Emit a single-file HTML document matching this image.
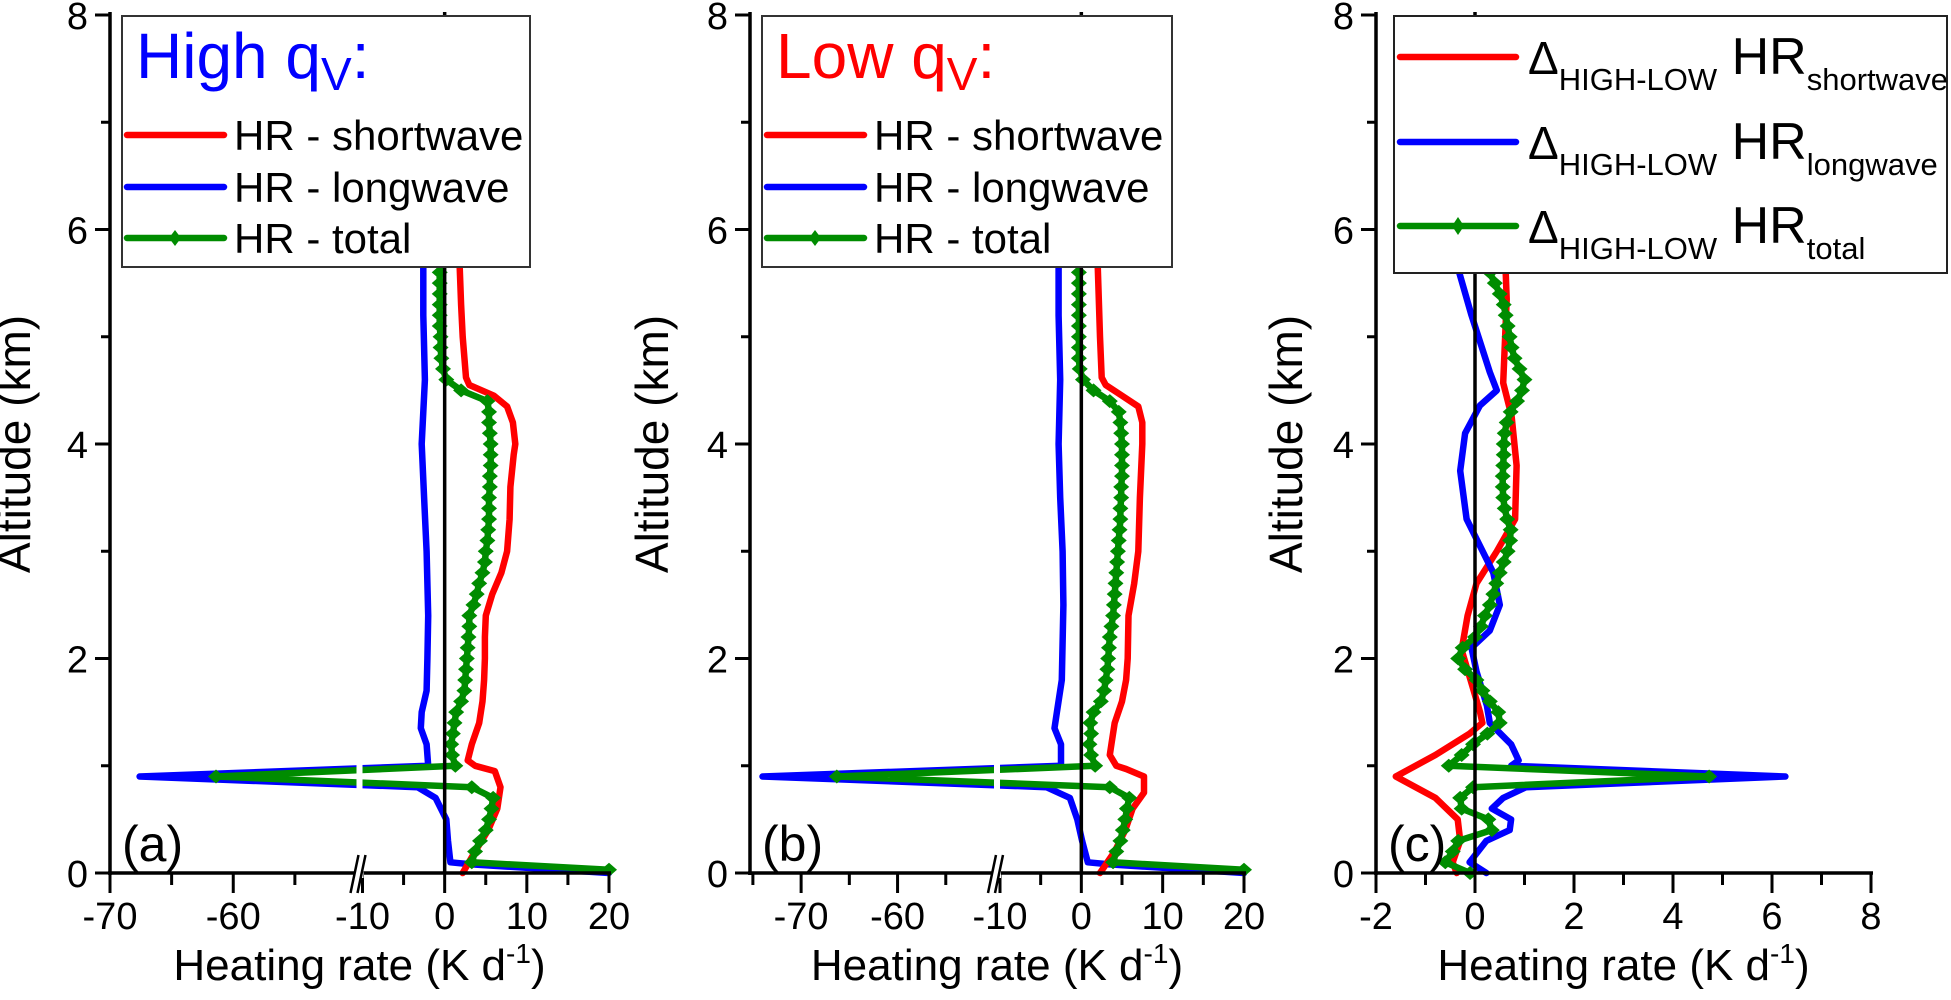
<!DOCTYPE html>
<html><head><meta charset="utf-8"><style>
html,body{margin:0;padding:0;background:#fff}
svg{display:block;font-family:"Liberation Sans",Arial,sans-serif}
</style></head><body>
<svg id="fig" width="1951" height="1000" viewBox="0 0 1951 1000" xmlns="http://www.w3.org/2000/svg"></svg>
<script>
// ---------- Panel (a) data: High qv ----------
const aShortAlt=[0,0.2,0.4,0.6,0.8,0.95,1.0,1.05,1.2,1.4,1.6,1.8,2.0,2.2,2.4,2.6,2.8,3.0,3.3,3.6,3.9,4.0,4.2,4.35,4.45,4.55,4.62,5.0,5.3,5.7];
const aShortVal=[2.2,3.7,5.3,6.4,6.8,6.1,3.7,2.8,3.3,4.2,4.6,4.8,4.9,4.9,5.0,5.8,6.9,7.6,7.9,8.0,8.4,8.6,8.3,7.6,6.0,3.0,2.6,2.2,2.0,1.8];
const aLongAlt=[0,0.08,0.1,0.3,0.5,0.7,0.8,0.9,1.0,1.2,1.35,1.5,1.7,2.0,2.4,3.0,3.5,4.0,4.6,5.2,5.7];
const aLongVal=[20,3.3,0.7,0.4,0.2,-1.1,-3.3,-67.6,-2.0,-2.2,-2.9,-2.8,-2.2,-2.1,-2.0,-2.2,-2.5,-2.8,-2.4,-2.6,-2.6];
const aTotAlt=[0.03,0.1,0.2,0.3,0.4,0.5,0.6,0.7,0.8,0.9,1.0,1.1,1.2,1.3,1.4,1.5,1.6,1.7,1.8,1.9,2.0,2.1,2.2,2.3,2.4,2.5,2.6,2.7,2.8,2.9,3.0,3.1,3.2,3.3,3.4,3.5,3.6,3.7,3.8,3.9,4.0,4.1,4.2,4.3,4.4,4.5,4.6,4.7,4.8,4.9,5.0,5.1,5.2,5.3,5.4,5.5,5.6,5.7];
const aTotVal=[20,3.3,3.7,4.3,5.0,5.4,5.7,5.9,3.3,-61.4,1.3,0.9,0.8,1.0,1.2,1.4,2.0,2.4,2.5,2.6,2.7,2.8,2.9,3.0,3.0,3.5,3.9,4.2,4.6,4.9,5.0,5.2,5.3,5.4,5.4,5.4,5.5,5.5,5.6,5.6,5.6,5.5,5.4,5.4,5.2,2.0,0.2,-0.2,-0.4,-0.5,-0.5,-0.6,-0.6,-0.6,-0.6,-0.6,-0.6,-0.6];
// ---------- Panel (b) data: Low qv ----------
const bShortAlt=[0,0.2,0.4,0.6,0.75,0.9,0.97,1.0,1.1,1.2,1.4,1.6,1.8,2.0,2.4,2.7,3.0,3.5,4.0,4.2,4.35,4.45,4.55,4.62,5.0,5.7];
const bShortVal=[2.3,4.1,5.4,6.3,7.7,7.7,5.5,4.3,3.5,3.7,4.1,5.0,5.5,5.7,5.8,6.5,7.0,7.2,7.5,7.5,7.0,5.0,3.0,2.5,2.3,2.0];
const bLongAlt=[0,0.08,0.1,0.3,0.5,0.7,0.8,0.9,1.0,1.2,1.35,1.5,1.8,2.5,3.0,3.5,4.0,4.6,5.2,5.7];
const bLongVal=[20,3.5,0.8,0.1,-0.5,-1.4,-4.3,-74.0,-2.5,-2.5,-3.3,-3.0,-2.4,-2.2,-2.3,-2.6,-2.8,-2.6,-2.8,-2.8];
const bTotAlt=aTotAlt;
const bTotVal=[20,3.9,4.3,4.8,5.1,5.4,5.6,5.9,3.5,-66.3,1.7,1.2,1.0,1.2,1.1,1.5,2.4,2.8,3.0,3.2,3.3,3.4,3.5,3.7,3.9,4.0,4.1,4.2,4.3,4.4,4.5,4.6,4.7,4.8,4.8,4.9,4.9,5.0,5.0,5.0,5.0,4.9,4.8,4.6,3.5,1.5,0.2,-0.2,-0.3,-0.3,-0.3,-0.3,-0.3,-0.3,-0.3,-0.3,-0.3,-0.3];
// ---------- Panel (c) data: HIGH-LOW difference ----------
const cShortAlt=[0,0.1,0.3,0.5,0.7,0.9,1.1,1.3,1.4,1.5,1.77,2.08,2.4,2.7,3.0,3.3,3.8,4.26,4.57,5.35,5.73];
const cShortVal=[-0.37,-0.45,-0.3,-0.35,-0.8,-1.6,-0.8,-0.11,0.15,0.1,-0.07,-0.27,-0.15,0.03,0.44,0.81,0.84,0.74,0.57,0.64,0.61];
const cLongAlt=[0,0.1,0.3,0.4,0.5,0.6,0.7,0.8,0.9,1.0,1.05,1.2,1.4,1.56,1.88,2.1,2.26,2.5,2.8,3.3,3.75,4.1,4.36,4.5,4.67,5.2,5.73];
const cLongVal=[0.23,-0.11,0.23,0.7,0.73,0.34,0.57,1.03,6.27,0.73,0.88,0.73,0.3,0.24,0.03,-0.07,0.3,0.5,0.37,-0.17,-0.3,-0.2,0.1,0.44,0.3,-0.07,-0.4];
const cTotAlt=[0,0.1,0.2,0.3,0.4,0.5,0.6,0.7,0.8,0.9,1.0,1.1,1.2,1.3,1.4,1.5,1.6,1.7,1.8,1.9,2.0,2.1,2.2,2.3,2.4,2.5,2.6,2.7,2.8,2.9,3.0,3.1,3.2,3.3,3.4,3.5,3.6,3.7,3.8,3.9,4.0,4.1,4.2,4.3,4.4,4.5,4.6,4.7,4.8,4.9,5.0,5.1,5.2,5.3,5.4,5.5,5.6,5.7];
const cTotVal=[-0.1,-0.6,-0.45,-0.34,0.34,0.27,-0.27,-0.3,-0.04,4.73,-0.53,-0.27,-0.04,0.25,0.5,0.47,0.3,0.15,0.03,-0.2,-0.34,-0.25,0.0,0.12,0.2,0.3,0.37,0.43,0.5,0.58,0.66,0.71,0.72,0.65,0.6,0.57,0.56,0.56,0.57,0.58,0.58,0.6,0.64,0.72,0.85,0.95,1.0,0.9,0.8,0.74,0.7,0.66,0.62,0.58,0.5,0.4,0.3,0.24];
// ---------- Axis tick labels ----------
const yTickLabels=[0,2,4,6,8];
const abXTickLabels=[-70,-60,-10,0,10,20];
const aXMinor=[-65,-55,-5,5,15];
const bXMinor=[-75,-65,-55,-5,5,15];
const cXTickLabels=[-2,0,2,4,6,8];
const cXMinor=[-1,1,3,5,7];

const NS="http://www.w3.org/2000/svg";
const svg=document.getElementById('fig');
function el(tag,attrs,parent){const e=document.createElementNS(NS,tag);for(const k in attrs)e.setAttribute(k,attrs[k]);(parent||svg).appendChild(e);return e;}
const Y0=873,Y8=15;
function yMap(a){return Y0+(Y8-Y0)*a/8;}

function brokenX(x0,x1,lmin){
  const mid=(x0+x1)/2;
  return function(v){
    if(v<=-50) return x0+(v-lmin)/(-50-lmin)*(mid-3-x0);
    if(v>=-10) return mid+3+(v+10)/30*(x1-mid-3);
    return (mid-3)+(v+50)/40*6;
  };
}
function linX(x0,x1,lo,hi){return v=>x0+(v-lo)/(hi-lo)*(x1-x0);}

function drawLine(g,alts,vals,xm,color,name){
  let d='';
  for(let i=0;i<alts.length;i++){d+=(i?'L':'M')+xm(vals[i]).toFixed(1)+' '+yMap(alts[i]).toFixed(1);}
  const p=el('path',{d:d,fill:'none',stroke:color,'stroke-width':6.5,'stroke-linejoin':'round','stroke-linecap':'round'},g);
  
  
}
function drawMarkers(g,alts,vals,xm,name){
  const mg=el('g',{fill:'#008c00'},g);
  
  
  for(let i=0;i<alts.length;i++){
    const x=xm(vals[i]),y=yMap(alts[i]);
    const m=el('path',{d:`M${x-8} ${y}L${x} ${y-7}L${x+8} ${y}L${x} ${y+7}Z`},mg);
    
    
  }
}

function axes(g,x0,x1,xm,majors,minors,breakX,panelLabel,ylabelX){
  const z=el('line',{x1:xm(0),y1:Y0,x2:xm(0),y2:Y8-3,stroke:'#000','stroke-width':3.5},g);
  
  
  const la=el('line',{x1:x0,y1:Y0+2,x2:x0,y2:Y8-3,stroke:'#000','stroke-width':3.5},g);
  
  
  for(let k=0;k<=8;k++){
    const y=yMap(k),maj=k%2===0;
    el('line',{x1:x0,y1:y,x2:x0-(maj?15:9),y2:y,stroke:'#000','stroke-width':3},g);
  }
  yTickLabels.forEach(v=>{
    const t=el('text',{x:x0-22,y:yMap(v)+14,'font-size':38,'text-anchor':'end'},g);
    t.textContent=v;
    
    
  });
  const ba=el('line',{x1:x0-2,y1:Y0,x2:x1+2,y2:Y0,stroke:'#000','stroke-width':3.5},g);
  
  
  majors.forEach(v=>{
    el('line',{x1:xm(v),y1:Y0,x2:xm(v),y2:Y0+20,stroke:'#000','stroke-width':3},g);
    const t=el('text',{x:xm(v),y:Y0+56,'font-size':38,'text-anchor':'middle'},g);
    t.textContent=v;
    
    
  });
  minors.forEach(v=>{el('line',{x1:xm(v),y1:Y0,x2:xm(v),y2:Y0+12,stroke:'#000','stroke-width':3},g);});
  if(breakX!==null){
    el('rect',{x:breakX-4,y:Y0-3,width:8,height:8,fill:'#fff'},g);
    const bm=el('g',{stroke:'#000','stroke-width':2.5},g);
    
    
    el('line',{x1:breakX-9,y1:Y0+20,x2:breakX-1,y2:Y0-18},bm);
    el('line',{x1:breakX-2,y1:Y0+20,x2:breakX+6,y2:Y0-18},bm);
  }
  const xt=el('text',{x:(x0+x1)/2,y:980,'font-size':44,'text-anchor':'middle'},g);
  xt.innerHTML='Heating rate (K d<tspan dy="-17" font-size="28">-1</tspan><tspan dy="17">)</tspan>';
  
  
  const yt=el('text',{x:0,y:0,'font-size':46,'text-anchor':'middle',transform:`translate(${ylabelX},${(Y0+Y8)/2}) rotate(-90)`},g);
  yt.textContent='Altitude (km)';
  
  
  const pl=el('text',{x:x0+12,y:Y0-12,'font-size':50},g);
  pl.textContent=panelLabel;
  
  
}

function legendAB(g,bx,bw,title,titleColor){
  const lg=el('g',{},g);
  
  
  el('rect',{x:bx,y:16,width:bw,height:251,fill:'#fff',stroke:'#333','stroke-width':2},lg);
  const tt=el('text',{x:bx+14,y:78,'font-size':64,fill:titleColor},lg);
  tt.innerHTML=title+' q<tspan dy="12" font-size="46">V</tspan><tspan dy="-12">:</tspan>';
  
  
  const items=[['HR - shortwave','#ff0000',135],['HR - longwave','#0000ff',187],['HR - total','#008c00',238]];
  items.forEach((it,i)=>{
    const e=el('g',{},lg);
    
    
    el('line',{x1:bx+5,y1:it[2],x2:bx+102,y2:it[2],stroke:it[1],'stroke-width':6.5,'stroke-linecap':'round'},e);
    if(i===2) el('path',{d:`M${bx+47} ${it[2]}L${bx+53} ${it[2]-8}L${bx+59} ${it[2]}L${bx+53} ${it[2]+8}Z`,fill:it[1]},e);
    const t=el('text',{x:bx+112,y:it[2]+15,'font-size':42},e);
    t.textContent=it[0];
  });
}

// Panel A
(function(){
  const g=el('g',{});
  const x0=110,x1=609,xm=brokenX(x0,x1,-70);
  drawLine(g,aLongAlt,aLongVal,xm,'#0000ff','longwave-line');
  drawLine(g,aShortAlt,aShortVal,xm,'#ff0000','shortwave-line');
  drawLine(g,aTotAlt,aTotVal,xm,'#008c00','total-line');
  drawMarkers(g,aTotAlt,aTotVal,xm,'total-markers');
  el('rect',{x:(x0+x1)/2-3,y:yMap(1.1),width:6,height:yMap(0.7)-yMap(1.1),fill:'#fff'},g);
  axes(g,x0,x1,xm,abXTickLabels,aXMinor,(x0+x1)/2,'(a)',30);
  legendAB(g,122,408,'High','#0000ff');
})();
// Panel B
(function(){
  const g=el('g',{});
  const x0=750,x1=1244,xm=brokenX(x0,x1,-75.3);
  drawLine(g,bLongAlt,bLongVal,xm,'#0000ff','longwave-line');
  drawLine(g,bShortAlt,bShortVal,xm,'#ff0000','shortwave-line');
  drawLine(g,bTotAlt,bTotVal,xm,'#008c00','total-line');
  drawMarkers(g,bTotAlt,bTotVal,xm,'total-markers');
  el('rect',{x:(x0+x1)/2-3,y:yMap(1.1),width:6,height:yMap(0.7)-yMap(1.1),fill:'#fff'},g);
  axes(g,x0,x1,xm,abXTickLabels,bXMinor,(x0+x1)/2,'(b)',668);
  legendAB(g,762,410,'Low','#ff0000');
})();
// Panel C
(function(){
  const g=el('g',{});
  const x0=1376,x1=1871,xm=linX(x0,x1,-2,8);
  drawLine(g,cShortAlt,cShortVal,xm,'#ff0000','shortwave-diff-line');
  drawLine(g,cLongAlt,cLongVal,xm,'#0000ff','longwave-diff-line');
  drawLine(g,cTotAlt,cTotVal,xm,'#008c00','total-diff-line');
  drawMarkers(g,cTotAlt,cTotVal,xm,'total-diff-markers');
  axes(g,x0,x1,xm,cXTickLabels,cXMinor,null,'(c)',1302);
  const lg=el('g',{},g);
  
  
  el('rect',{x:1394,y:16,width:553,height:257,fill:'#fff',stroke:'#222','stroke-width':2},lg);
  const items=[['shortwave','#ff0000',57],['longwave','#0000ff',142],['total','#008c00',226]];
  items.forEach((it,i)=>{
    const e=el('g',{},lg);
    
    
    el('line',{x1:1400,y1:it[2],x2:1516,y2:it[2],stroke:it[1],'stroke-width':6.5,'stroke-linecap':'round'},e);
    if(i===2) el('path',{d:`M${1452} ${it[2]}L${1458} ${it[2]-9}L${1464} ${it[2]}L${1458} ${it[2]+9}Z`,fill:it[1]},e);
    const t=el('text',{x:1528,y:it[2]+17,'font-size':46},e);
    t.innerHTML='Δ<tspan dy="16" font-size="31">HIGH-LOW</tspan><tspan dy="-16" font-size="52"> HR</tspan><tspan dy="16" font-size="31">'+it[0]+'</tspan>';
  });
})();
</script>
</body></html>
